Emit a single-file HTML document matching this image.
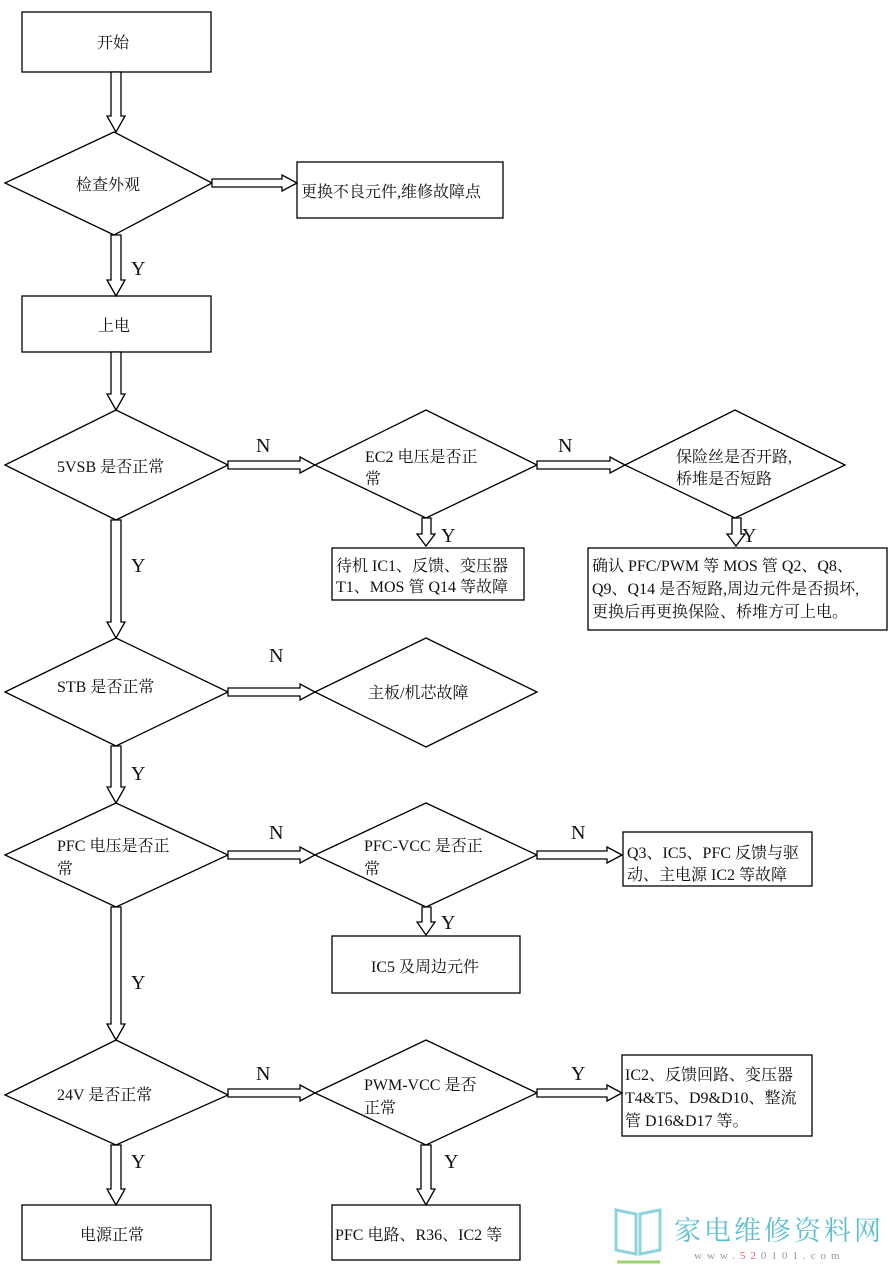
<!DOCTYPE html>
<html><head><meta charset="utf-8"><style>
html,body{margin:0;padding:0;background:#fff;}
svg{display:block;}
text{font-family:"Liberation Serif","Noto Serif CJK SC",serif;font-size:16px;fill:#111;}
.l{font-size:20px;}
</style></head><body>
<svg width="892" height="1281" viewBox="0 0 892 1281" xmlns="http://www.w3.org/2000/svg">
<g fill="#fff" stroke="#000" stroke-width="1.3">
<rect x="22" y="12" width="189" height="60"/>
<rect x="297" y="162" width="206" height="56"/>
<rect x="22" y="296" width="189" height="56"/>
<rect x="332" y="548" width="192" height="52"/>
<rect x="588" y="548" width="299" height="82"/>
<rect x="623" y="832" width="189" height="54"/>
<rect x="332" y="936" width="188" height="57"/>
<rect x="622" y="1055" width="190" height="81"/>
<rect x="22" y="1205" width="189" height="55"/>
<rect x="332" y="1205" width="188" height="55"/>
<polygon points="5,183 114,132 212,183 114,235"/>
<polygon points="5,465 116,410 228,465 116,520"/>
<polygon points="315,465 426,410 537,465 426,518"/>
<polygon points="625,465 735,410 845,465 735,518"/>
<polygon points="5,692 116,638 228,692 116,746"/>
<polygon points="315,692 426,638 537,692 426,747"/>
<polygon points="5,855 116,803 228,855 116,907"/>
<polygon points="315,855 426,803 537,855 426,907"/>
<polygon points="5,1095 116,1040 228,1095 116,1145"/>
<polygon points="315,1093 426,1040 537,1093 426,1145"/>
<polygon points="111,72 121,72 121,116 125,116 116,132 107,116 111,116"/>
<polygon points="111,235 121,235 121,280 125,280 116,296 107,280 111,280"/>
<polygon points="111,352 121,352 121,394 125,394 116,410 107,394 111,394"/>
<polygon points="111,520 121,520 121,622 125,622 116,638 107,622 111,622"/>
<polygon points="111,746 121,746 121,787 125,787 116,803 107,787 111,787"/>
<polygon points="111,907 121,907 121,1024 125,1024 116,1040 107,1024 111,1024"/>
<polygon points="111,1145 121,1145 121,1189 125,1189 116,1205 107,1189 111,1189"/>
<polygon points="422,518 431,518 431,534 435,534 426,546 417,534 422,534"/>
<polygon points="732,518 741,518 741,534 745,534 736,546 727,534 732,534"/>
<polygon points="422,907 431,907 431,922 435,922 426,935 417,922 422,922"/>
<polygon points="421,1145 431,1145 431,1189 435,1189 426,1205 417,1189 421,1189"/>
<polygon points="212,179 282,179 282,175 297,183 282,191 282,187 212,187"/>
<polygon points="228,461 300,461 300,457 315,465 300,473 300,469 228,469"/>
<polygon points="537,461 610,461 610,457 625,465 610,473 610,469 537,469"/>
<polygon points="228,688 300,688 300,684 315,692 300,700 300,696 228,696"/>
<polygon points="228,851 300,851 300,847 315,855 300,863 300,859 228,859"/>
<polygon points="537,851 607,851 607,847 622,855 607,863 607,859 537,859"/>
<polygon points="228,1089 300,1089 300,1085 315,1093 300,1101 300,1097 228,1097"/>
<polygon points="537,1089 607,1089 607,1085 622,1093 607,1101 607,1097 537,1097"/>
</g>
<text x="97" y="48">开始</text>
<text x="76" y="190">检查外观</text>
<text x="301" y="197">更换不良元件,维修故障点</text>
<text x="98" y="331">上电</text>
<text x="57" y="472">5VSB 是否正常</text>
<text x="365" y="462">EC2 电压是否正</text>
<text x="365" y="484">常</text>
<text x="676" y="462">保险丝是否开路,</text>
<text x="676" y="484">桥堆是否短路</text>
<text x="336" y="571">待机 IC1、反馈、变压器</text>
<text x="336" y="592">T1、MOS 管 Q14 等故障</text>
<text x="592" y="571">确认 PFC/PWM 等 MOS 管 Q2、Q8、</text>
<text x="592" y="594">Q9、Q14 是否短路,周边元件是否损坏,</text>
<text x="592" y="617">更换后再更换保险、桥堆方可上电。</text>
<text x="57" y="692">STB 是否正常</text>
<text x="368" y="698">主板/机芯故障</text>
<text x="57" y="851">PFC 电压是否正</text>
<text x="57" y="874">常</text>
<text x="364" y="851">PFC-VCC 是否正</text>
<text x="364" y="874">常</text>
<text x="627" y="858">Q3、IC5、PFC 反馈与驱</text>
<text x="627" y="880">动、主电源 IC2 等故障</text>
<text x="371" y="972">IC5 及周边元件</text>
<text x="57" y="1100">24V 是否正常</text>
<text x="364" y="1090">PWM-VCC 是否</text>
<text x="364" y="1113">正常</text>
<text x="625" y="1080">IC2、反馈回路、变压器</text>
<text x="625" y="1103">T4&amp;T5、D9&amp;D10、整流</text>
<text x="625" y="1126">管 D16&amp;D17 等。</text>
<text x="80" y="1240">电源正常</text>
<text x="335" y="1240">PFC 电路、R36、IC2 等</text>
<text class="l" x="131" y="275">Y</text>
<text class="l" x="256" y="452">N</text>
<text class="l" x="558" y="452">N</text>
<text class="l" x="441" y="542">Y</text>
<text class="l" x="742" y="542">Y</text>
<text class="l" x="131" y="572">Y</text>
<text class="l" x="269" y="662">N</text>
<text class="l" x="131" y="780">Y</text>
<text class="l" x="269" y="839">N</text>
<text class="l" x="571" y="839">N</text>
<text class="l" x="441" y="929">Y</text>
<text class="l" x="131" y="989">Y</text>
<text class="l" x="256" y="1080">N</text>
<text class="l" x="571" y="1080">Y</text>
<text class="l" x="131" y="1168">Y</text>
<text class="l" x="444" y="1168">Y</text>
<g fill="none" stroke="#8fd3de" stroke-width="3">
<path d="M616 1210 L636 1214 L636 1254 L616 1250 Z"/>
<path d="M640 1214 L660 1210 L660 1250 L640 1254 Z"/>
</g>
<path d="M617 1262 L660 1262" stroke="#9dd46a" stroke-width="3"/>
<text x="674" y="1240" style="font-size:27px;fill:#5fbfd0;letter-spacing:3px">家电维修资料网</text>
<text x="694" y="1259" style="font-size:11px;fill:#999;letter-spacing:5px">www.<tspan style="fill:#e06060">52</tspan>0101.com</text>
</svg>
</body></html>
